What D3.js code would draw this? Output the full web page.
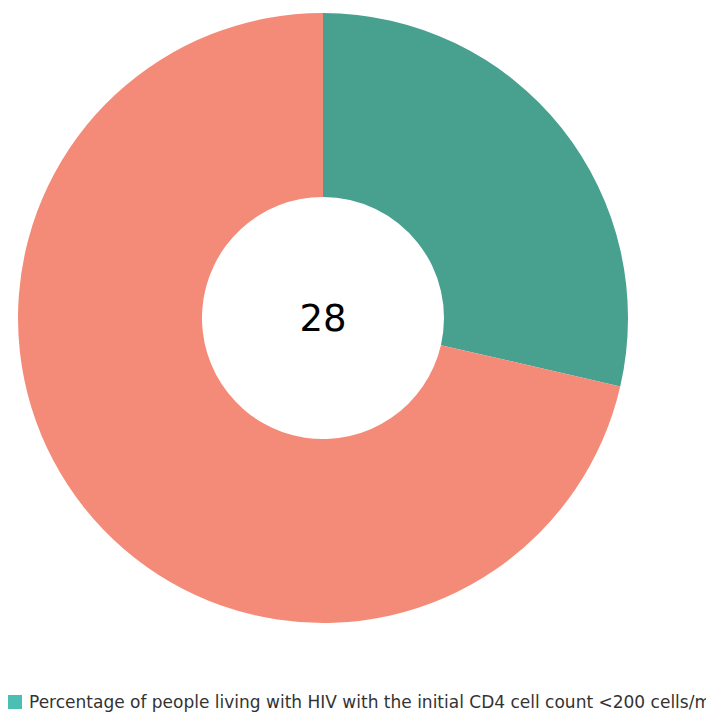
<!DOCTYPE html>
<html>
  <head>
    <meta charset="UTF-8" />
    <style>
      body { margin: 0; background: #fff; overflow: hidden; }
      text { font-family: "DejaVu Sans", sans-serif; }
    </style>
    <script src="https://d3js.org/d3.v7.min.js"></script>
  </head>
  <body>
    <svg width="706" height="713"></svg>
    <script>
      var categories = ["Initial CD4 <200", "Other"];
      var values = [28.6, 71.4];
      var centerLabel = "28";
      var legendLabels = [
        "Percentage of people living with HIV with the initial CD4 cell count <200 cells/mm3"
      ];

      var colors = d3.scaleOrdinal().domain(categories).range(["#48a08f", "#f48b78"]);

      var svg = d3.select("svg");
      var cx = 323, cy = 318;
      var outer = 305, inner = 121;

      var pie = d3.pie().sort(null).value((d) => d);
      var arc = d3.arc().innerRadius(inner).outerRadius(outer);

      var g = svg.append("g").attr("transform", "translate(" + cx + "," + cy + ")");

      g.selectAll("path")
        .data(pie(values))
        .enter()
        .append("path")
        .attr("d", arc)
        .attr("fill", (d, i) => colors(categories[i]));

      g.append("text")
        .attr("text-anchor", "middle")
        .attr("dy", "0.36em")
        .style("font-size", "37px")
        .style("fill", "#000")
        .text(centerLabel);

      // legend (the long label runs past the right edge, as in the original)
      var legend = svg.append("g").attr("transform", "translate(8,695)");
      legend.selectAll("rect")
        .data(legendLabels)
        .enter()
        .append("rect")
        .attr("width", 14)
        .attr("height", 14)
        .attr("fill", "#4bbfb1");
      legend.selectAll("text")
        .data(legendLabels)
        .enter()
        .append("text")
        .attr("x", 21)
        .attr("y", 13)
        .style("font-size", "17px")
        .style("fill", "#333")
        .text((d) => d);
    </script>
  </body>
</html>
